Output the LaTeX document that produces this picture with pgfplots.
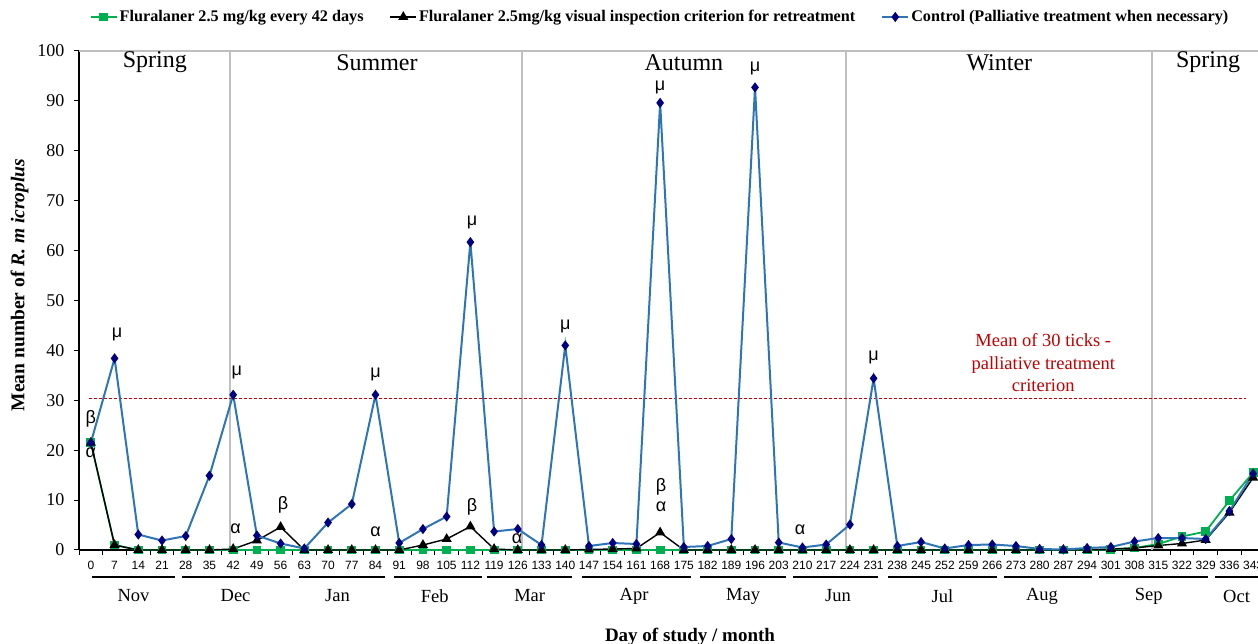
\documentclass[border=0pt]{standalone}
\usepackage{fontspec}
\setmainfont{Liberation Serif}
\setsansfont{Liberation Sans}
\usepackage{pgfplots}
\pgfplotsset{compat=1.18}
\definecolor{cblue}{RGB}{46,117,182}
\definecolor{cnavy}{RGB}{0,0,128}
\definecolor{cgreen}{RGB}{0,176,80}
\definecolor{cred}{RGB}{192,0,0}
\definecolor{cgray}{RGB}{191,191,191}
\newcommand{\gk}{\sffamily\fontsize{18}{20}\selectfont}
\newcommand{\mon}[4]{%
  \draw[black, line width=2.5pt] ([yshift=-27pt]axis cs:#1,0) -- ([yshift=-27pt]axis cs:#2,0);
  \node[font=\fontsize{18.5}{20}\selectfont] at ([yshift=-46pt]axis cs:#3,0) {#4};}
\begin{document}
\begin{tikzpicture}[x=1pt,y=1pt]
\path[use as bounding box] (0,0) rectangle (1258,644);
\begin{axis}[
  at={(79pt,94pt)}, anchor=south west,
  scale only axis, width=1186pt, height=499pt,
  xmin=-0.5, xmax=49.5, ymin=0, ymax=100,
  axis lines*=left,
  axis line style={black, line width=1.6pt},
  tick align=outside,
  major tick length=0pt, minor tick length=5pt,
  xtick={0,...,49},
  xticklabels={0,7,14,21,28,35,42,49,56,63,70,77,84,91,98,105,112,119,126,133,140,147,154,161,168,175,182,189,196,203,210,217,224,231,238,245,252,259,266,273,280,287,294,301,308,315,322,329,336,343},
  minor xtick={-0.5,0.5,...,49.5},
  ytick={0,10,...,100},
  minor ytick={0,10,...,100},
  tick style={black, line width=1pt},
  /pgf/number format/assume math mode=true,
  yticklabel style={font=\fontsize{18}{20}\selectfont, xshift=-11pt},
  xticklabel style={font=\sffamily\fontsize{12}{14}\selectfont, yshift=-8pt},
  clip=false,
  legend columns=3,
  legend style={draw=none, fill=none, at={(0.49,1)}, anchor=center, yshift=34pt,
    font=\bfseries\fontsize{16.2}{19}\selectfont,
    /tikz/every even column/.append style={column sep=24pt}},
  legend image code/.code={\draw[mark repeat=2,mark phase=2] plot coordinates {(0pt,0pt) (13pt,0pt) (26pt,0pt)};},
]
% frame and season separators
\draw[cgray, line width=1.5pt] (axis cs:-0.5,100) -- (axis cs:49.5,100);
\draw[cgray, line width=2pt] (axis cs:5.86,0) -- (axis cs:5.86,100);
\draw[cgray, line width=2pt] (axis cs:18.17,0) -- (axis cs:18.17,100);
\draw[cgray, line width=2pt] (axis cs:31.85,0) -- (axis cs:31.85,100);
\draw[cgray, line width=2pt] (axis cs:44.73,0) -- (axis cs:44.73,100);
% threshold
\draw[cred, line width=0.9pt, dash pattern=on 3pt off 2pt] (axis cs:-0.08,30.3) -- (axis cs:48.7,30.3);

\addplot[cgreen, line width=1.8pt, mark=square*, mark size=3.5pt, mark options={fill=cgreen, draw=cgreen}] coordinates {
(0,21.5)(1,1.0)(2,0)(3,0)(4,0)(5,0)(6,0)(7,0)(8,0)(9,0)(10,0)(11,0)(12,0)(13,0)(14,0)(15,0)(16,0)(17,0)(18,0)(19,0)(20,0)(21,0)(22,0)(23,0)(24,0)(25,0)(26,0)(27,0)(28,0)(29,0)(30,0)(31,0)(32,0)(33,0)(34,0)(35,0)(36,0)(37,0)(38,0)(39,0)(40,0)(41,0)(42,0)(43,0.1)(44,0.4)(45,1.2)(46,2.7)(47,3.7)(48,9.9)(49,15.5)};
\addlegendentry{Fluralaner 2.5 mg/kg every 42 days}

\addplot[black, line width=1.4pt, mark=triangle*, mark size=4.5pt, mark options={fill=black}] coordinates {
(0,21.5)(1,1.0)(2,0)(3,0)(4,0)(5,0)(6,0.2)(7,1.9)(8,4.6)(9,0)(10,0)(11,0)(12,0)(13,0)(14,1.0)(15,2.2)(16,4.7)(17,0.2)(18,0)(19,0)(20,0)(21,0.1)(22,0.2)(23,0.3)(24,3.5)(25,0)(26,0)(27,0)(28,0)(29,0)(30,0)(31,0)(32,0)(33,0)(34,0)(35,0)(36,0)(37,0)(38,0)(39,0)(40,0)(41,0)(42,0)(43,0.2)(44,0.4)(45,0.9)(46,1.3)(47,2.0)(48,7.5)(49,14.5)};
\addlegendentry{Fluralaner 2.5mg/kg visual inspection criterion for retreatment}

\addplot[cblue, line width=2pt, mark=diamond*, mark size=3.5pt, mark options={fill=cnavy, draw=cnavy}] coordinates {
(0,21.5)(1,38.4)(2,3.1)(3,1.9)(4,2.8)(5,14.9)(6,31.1)(7,2.9)(8,1.3)(9,0.3)(10,5.5)(11,9.2)(12,31.1)(13,1.4)(14,4.2)(15,6.7)(16,61.7)(17,3.7)(18,4.2)(19,1.0)(20,41.0)(21,0.8)(22,1.4)(23,1.2)(24,89.6)(25,0.6)(26,0.8)(27,2.2)(28,92.7)(29,1.5)(30,0.5)(31,1.1)(32,5.1)(33,34.4)(34,0.8)(35,1.6)(36,0.3)(37,1.0)(38,1.1)(39,0.8)(40,0.2)(41,0.1)(42,0.4)(43,0.6)(44,1.7)(45,2.4)(46,2.4)(47,2.2)(48,7.8)(49,15.3)};
\addlegendentry{Control (Palliative treatment when necessary)}

% seasons
\node[font=\fontsize{24}{26}\selectfont] at (axis cs:2.7,97.7) {Spring};
\node[font=\fontsize{24}{26}\selectfont] at (axis cs:12.06,97.7) {Summer};
\node[font=\fontsize{24}{26}\selectfont] at (axis cs:25,97.7) {Autumn};
\node[font=\fontsize{24}{26}\selectfont] at (axis cs:38.3,97.7) {Winter};
\node[font=\fontsize{24}{26}\selectfont] at (axis cs:47.1,97.7) {Spring};

% greek annotations
\node[font=\gk] at (axis cs:0,26.3) {β};
\node[font=\gk] at (axis cs:0,19.4) {α};
\node[font=\gk] at (axis cs:1.1,43.2) {μ};
\node[font=\gk] at (axis cs:6.15,35.5) {μ};
\node[font=\gk] at (axis cs:6.1,4.2) {α};
\node[font=\gk] at (axis cs:8.1,9.0) {β};
\node[font=\gk] at (axis cs:12.0,35.1) {μ};
\node[font=\gk] at (axis cs:12.0,3.6) {α};
\node[font=\gk] at (axis cs:16.07,65.7) {μ};
\node[font=\gk] at (axis cs:16.07,8.6) {β};
\node[font=\gk] at (axis cs:17.97,2.2) {α};
\node[font=\gk] at (axis cs:20.0,44.7) {μ};
\node[font=\gk] at (axis cs:24.04,12.6) {β};
\node[font=\gk] at (axis cs:24.04,8.6) {α};
\node[font=\gk] at (axis cs:24.0,92.7) {μ};
\node[font=\gk] at (axis cs:28.0,96.4) {μ};
\node[font=\gk] at (axis cs:29.9,4.0) {α};
\node[font=\gk] at (axis cs:33.0,38.5) {μ};

% threshold text
\node[cred, align=center, font=\fontsize{18.5}{22.5}\selectfont] at (axis cs:40.15,37.5) {Mean of 30 ticks -\\palliative treatment\\criterion};

% month bars and names
\mon{0.04}{3.54}{1.8}{Nov}
\mon{3.84}{8.39}{6.1}{Dec}
\mon{8.77}{12.4}{10.4}{Jan}
\mon{12.8}{16.5}{14.5}{Feb}
\mon{16.7}{20.3}{18.5}{Mar}
\mon{20.7}{25.3}{22.9}{Apr}
\mon{25.7}{29.3}{27.5}{May}
\mon{29.6}{33.2}{31.5}{Jun}
\mon{33.6}{38.2}{35.9}{Jul}
\mon{38.5}{42.2}{40.1}{Aug}
\mon{42.5}{47.1}{44.6}{Sep}
\mon{47.4}{50.5}{48.3}{Oct}
\end{axis}
\node[rotate=90, font=\bfseries\fontsize{19.5}{22}\selectfont] at (19.5,359) {Mean number of \textit{R. m icroplus}};
\node[font=\bfseries\fontsize{19}{22}\selectfont] at (690,7) {Day of study / month};
\end{tikzpicture}
\end{document}
